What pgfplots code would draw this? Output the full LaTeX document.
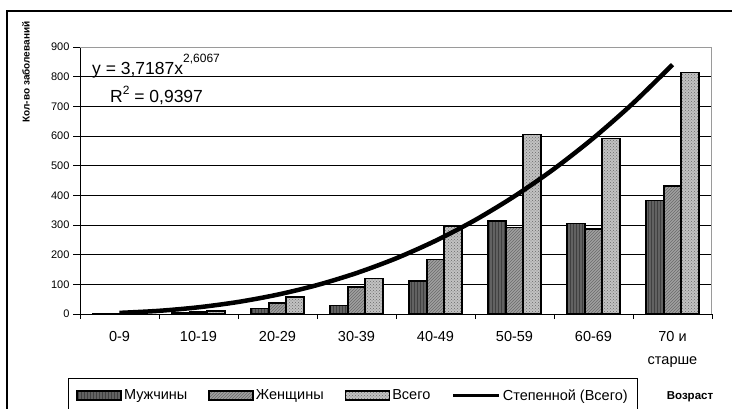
\documentclass[border=0pt]{standalone}
\usepackage{fontspec}
\setmainfont{Liberation Sans}
\usepackage{pgfplots}
\pgfplotsset{compat=1.18}
\usetikzlibrary{patterns}
\definecolor{cM}{HTML}{626262}
\definecolor{cMd}{HTML}{404040}
\definecolor{cW}{HTML}{A0A0A0}
\definecolor{cWd}{HTML}{6A6A6A}
\definecolor{cT}{HTML}{C2C2C2}
\definecolor{cTd}{HTML}{6A6A6A}
\definecolor{borderg}{HTML}{9A9A9A}
\pgfplotsset{
  barleg/.style={legend image code/.code={\draw[##1] (0pt,-4.5pt) rectangle (44pt,4.5pt);}},
  lineleg/.style={legend image code/.code={\draw[black, line width=3.5pt] (0pt,0pt) -- (46pt,0pt);}},
}
\begin{document}
\begin{tikzpicture}
\useasboundingbox (0,0) rectangle (732pt,-409pt);
\draw[line width=1.2pt] (732pt,-11pt) -- (7pt,-11pt) -- (7pt,-409pt);
\begin{axis}[
  at={(80pt,-314pt)}, anchor=south west,
  width=632pt, height=267pt, scale only axis,
  xmin=0.5, xmax=8.5, ymin=0, ymax=900,
  ytick={0,100,...,900},
  xtick={1,...,8},
  xticklabels={0-9,10-19,20-29,30-39,40-49,50-59,60-69,{70 и\\[5pt]старше}},
  minor xtick={0.5,1.5,...,8.5},
  major x tick style={draw=none},
  minor x tick style={black, line width=0.8pt},
  major y tick style={black, line width=0.8pt},
  tick align=outside,
  minor tick length=5pt, major tick length=7pt,
  axis x line*=bottom, axis y line*=left,
  axis line style={black, line width=1pt},
  ymajorgrids, grid style={black, line width=0.8pt},
  /pgf/number format/assume math mode=true,
  yticklabel style={font=\fontsize{11}{12}\selectfont},
  xticklabel style={font=\fontsize{14.5}{18}\selectfont, align=center, yshift=-7pt},
  legend style={at={(-0.019,-0.2397)}, anchor=north west, draw=black, line width=1pt,
    inner xsep=8pt, inner ysep=9pt, font=\fontsize{14.5}{16}\selectfont,
    /tikz/every even column/.append style={column sep=19pt}},
  legend columns=4,
  legend cell align=left,
]
\addplot[ybar, bar width=0.222, bar shift=-0.222, draw=black, line width=1.6pt, fill=cM,
  postaction={pattern=vertical lines, pattern color=cMd}, barleg]
  coordinates {(1,1) (2,4) (3,19) (4,28) (5,111) (6,313) (7,305) (8,383)};
\addlegendentry{Мужчины}
\addplot[ybar, bar width=0.222, bar shift=0, draw=black, line width=1.6pt, fill=cW,
  postaction={pattern=north east lines, pattern color=cWd}, barleg]
  coordinates {(1,1) (2,6) (3,38) (4,91) (5,184) (6,292) (7,287) (8,431)};
\addlegendentry{Женщины}
\addplot[ybar, bar width=0.222, bar shift=0.222, draw=black, line width=1.6pt, fill=cT,
  postaction={pattern=crosshatch dots, pattern color=cTd}, barleg]
  coordinates {(1,2) (2,10) (3,57) (4,119) (5,295) (6,605) (7,592) (8,814)};
\addlegendentry{Всего}
\addplot[black, line width=4.5pt, smooth, no marks, lineleg]
  coordinates {(1,3.72) (1.5,10.7) (2,22.65) (2.5,40.5) (3,65.2) (3.5,97.4) (4,138.0)
    (4.5,187.5) (5,246.8) (5.5,316.4) (6,397.1) (6.5,489.1) (7,593.4) (7.5,710.3) (8,840.4)};
\addlegendentry{Степенной (Всего)}
\draw[borderg, line width=1.3pt] (rel axis cs:0,1) -- (rel axis cs:1,1) -- (rel axis cs:1,0);
\end{axis}
\node[anchor=base west, font=\fontsize{17.5}{20}\selectfont, inner sep=0pt] at (92pt,-75pt) {y = 3,7187x\raisebox{12pt}{\fontsize{12}{14}\selectfont 2,6067}};
\node[anchor=base west, font=\fontsize{17.5}{20}\selectfont, inner sep=0pt] at (110pt,-103pt) {R\raisebox{8pt}{\fontsize{12}{14}\selectfont 2} = 0,9397};
\node[rotate=90, font=\bfseries\fontsize{10}{12}\selectfont] at (26pt,-72pt) {Кол-во заболеваний};
\node[font=\bfseries\fontsize{11.5}{13}\selectfont] at (690pt,-397pt) {Возраст};
\end{tikzpicture}
\end{document}
